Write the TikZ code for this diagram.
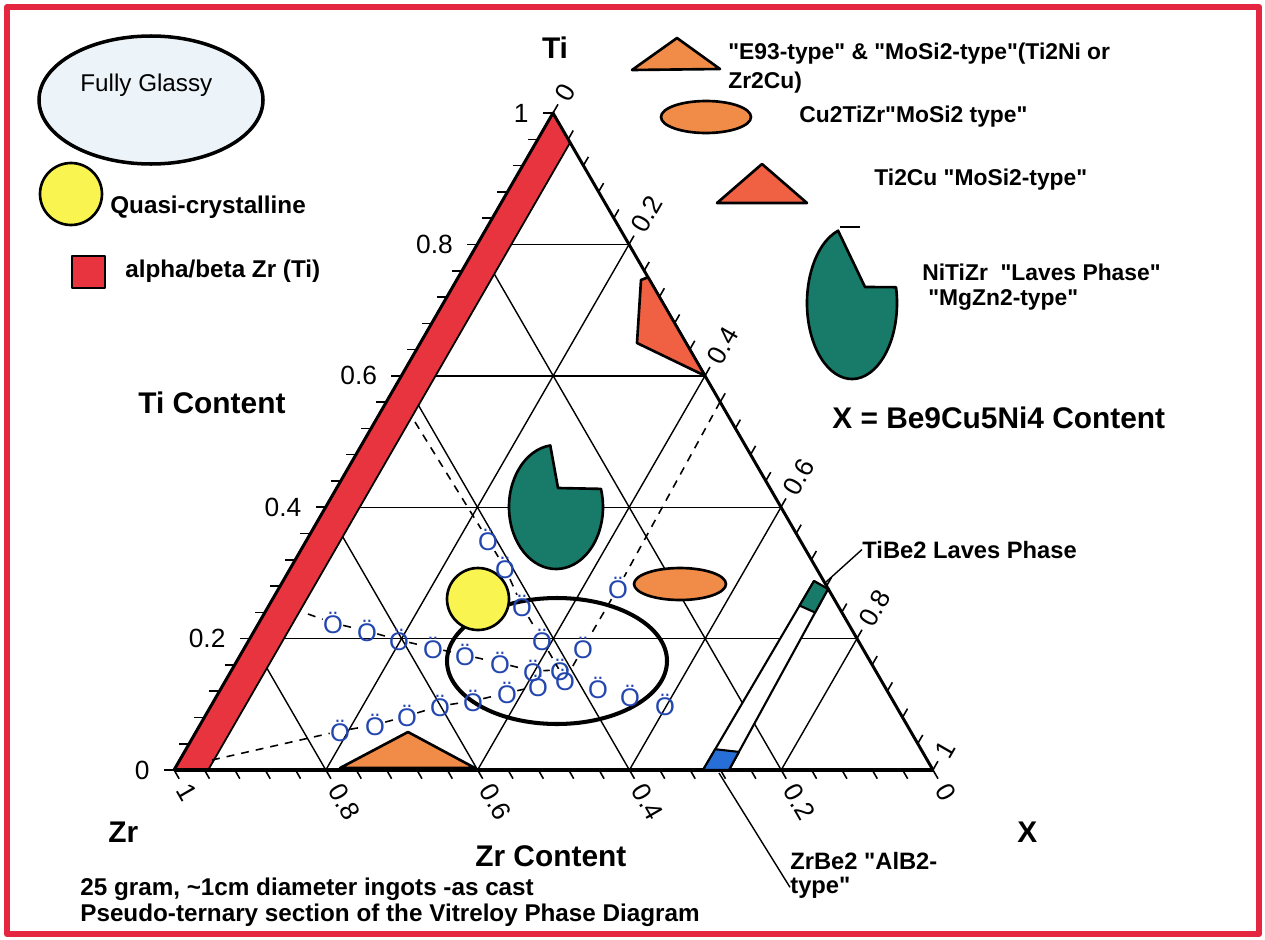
\documentclass[tikz,border=0pt]{standalone}
\usepackage{fontspec}
\setmainfont{Liberation Sans}[Ligatures=TeXOff]
\usetikzlibrary{calc}

\definecolor{framered}{RGB}{228,38,64}
\definecolor{bandred}{RGB}{232,52,62}
\definecolor{phorange}{RGB}{240,140,72}
\definecolor{phred}{RGB}{240,96,66}
\definecolor{phteal}{RGB}{24,122,104}
\definecolor{phyellow}{RGB}{250,244,80}
\definecolor{phblue}{RGB}{40,110,215}
\definecolor{ptblue}{RGB}{35,70,175}
\definecolor{glassy}{RGB}{236,244,249}

\begin{document}
\begin{tikzpicture}[x=0.02cm,y=-0.02cm,line join=round,inner sep=0pt]
  \tikzstyle{lbl}=[font=\bfseries\fontsize{13}{15}\selectfont,anchor=base west]
  \tikzstyle{lblbig}=[lbl,font=\bfseries\fontsize{13.8}{16}\selectfont]
  \tikzstyle{axname}=[font=\bfseries\fontsize{17}{20}\selectfont,anchor=base west]
  \tikzstyle{axnum}=[font=\fontsize{15}{18}\selectfont]
  \tikzstyle{gridline}=[line width=0.8pt]
  \tikzstyle{rim}=[line width=1.7pt]
  \tikzstyle{tickmark}=[line width=0.9pt]
  \tikzstyle{phase}=[draw=black,line width=1.5pt]
  \tikzstyle{ptmark}=[text=ptblue,font=\fontsize{14.5}{14.5}\selectfont]
  \tikzstyle{trail}=[line width=0.9pt,dash pattern=on 4.5pt off 4pt]
  \tikzstyle{leader}=[line width=0.8pt]

  % page and frame
  \fill[white] (0,0) rectangle (1265,940);
  \useasboundingbox (0,0) rectangle (1265,940);
  \draw[framered,line width=3.4pt] (7,7) rectangle (1259,934);

  % corners of the section
  \coordinate (Zr) at (174,770);
  \coordinate (X)  at (933,770);
  \coordinate (Ti) at (553,113);

  % grid
  \foreach \v in {0.2,0.4,0.6,0.8}{
    \draw[gridline] ($(Zr)!\v!(Ti)$) -- ($(X)!\v!(Ti)$);
    \draw[gridline] ($(Zr)!\v!(X)$) -- ($(Ti)!\v!(X)$);
    \draw[gridline] ($(X)!\v!(Zr)$) -- ($(Ti)!\v!(Zr)$);
  }

  % alpha/beta band along Zr-Ti side
  \filldraw[fill=bandred,draw=black,line width=1pt] (Zr) -- ($(Zr)!0.045!(X)$)
      -- ($(Ti)!0.045!(X)$) -- (Ti) -- cycle;

  \draw[rim] (X) -- (Ti) -- (Zr);
  \draw[rim,line width=2.1pt] (Zr) -- (X);

  % ticks and numbers
  \foreach \i in {0,...,25}{
    \pgfmathsetmacro\t{\i*0.04}
    \draw[tickmark] ($(Zr)!\t!(Ti)$) -- ++(-10,0);
    \draw[tickmark] ($(X)!\t!(Zr)$) -- ++(5,8.7);
    \draw[tickmark] ($(Ti)!\t!(X)$) -- ++(5,-8.7);
  }
  \foreach \v [count=\k] in {0,0.2,0.4,0.6,0.8,1}{
    \node[axnum,anchor=east] (tinum\k) at ($(Zr)!\v!(Ti)+(-24,0)$) {\v};
    \node[axnum,anchor=west,rotate=-60] (zrnum\k) at ($(X)!\v!(Zr)+(9,16)$) {\v};
    \node[axnum,anchor=west,rotate=60] (xnum\k) at ($(Ti)!\v!(X)+(8,-14)$) {\v};
  }

  % phase fields
  \coordinate (lavesC) at (556,507);
  \coordinate (lavesV) at (558,488);
  \filldraw[phase,fill=phteal] (lavesV) -- ([shift={(-97:47 and 62)}]lavesC)
      arc[start angle=-97,end angle=-377,x radius=47,y radius=62] -- cycle;
  \filldraw[phase,fill=phorange] (680,584) ellipse [x radius=46,y radius=16];
  \filldraw[phase,fill=phorange] (340,768) -- (408,732) -- (475,768) -- cycle;
  \filldraw[phase,fill=phred] (641,280) -- ($(Ti)!0.25!(X)$) -- ($(Ti)!0.4!(X)$)
      -- (637,343) -- cycle;

  \coordinate (barBL) at (703,770);
  \coordinate (barBR) at (729,770);
  \coordinate (barTL) at (814,581);
  \coordinate (barTR) at (828,589);
  \filldraw[phase,fill=white,line width=1.2pt] (barBL) -- (barTL) -- (barTR) -- (barBR) -- cycle;
  \filldraw[phase,fill=phteal,line width=1.2pt] (barTL) -- (barTR) -- ($(barTR)!0.13!(barBR)$)
      -- ($(barTL)!0.13!(barBL)$) -- cycle;
  \filldraw[phase,fill=phblue,line width=1.2pt] ($(barBL)!0.11!(barTL)$) -- ($(barBR)!0.1!(barTR)$)
      -- (barBR) -- (barBL) -- cycle;

  \draw[phase,line width=2.3pt] (557,661) ellipse [x radius=110,y radius=63];
  \filldraw[phase,fill=phyellow] (478,599) circle [radius=31];

  % measured alloys
  \foreach \p [count=\k] in {(333,623),(367,631),(399,640),(433,648),(465,655),(500,663),(533,671),(560,670)}
    \node[ptmark] (u\k) at \p {Ö};
  \foreach \p [count=\k] in {(488,540),(505,568),(522,606),(542,640),(565,680)}
    \node[ptmark] (d\k) at \p {Ö};
  \foreach \p [count=\k] in {(340,731),(375,725),(407,716),(440,706),(473,701),(507,693),(538,686)}
    \node[ptmark] (l\k) at \p {Ö};
  \foreach \p [count=\k] in {(598,688),(630,696),(665,705)}
    \node[ptmark] (s\k) at \p {Ö};
  \node[ptmark] (e1) at (583,648) {Ö};
  \node[ptmark] (f1) at (618,588) {Ö};

  \coordinate (uS) at (308,614);
  \coordinate (dS) at (415,422);
  \coordinate (fS) at (720,402);
  \coordinate (lS) at (212,760);
  \draw[trail] (uS) -- (u1) -- (u2) -- (u3) -- (u4) -- (u5) -- (u6) -- (u7) -- (u8);
  \draw[trail] (dS) -- (d1) -- (d2) -- (d3) -- (d4) -- (d5);
  \draw[trail] (fS) -- (f1) -- (e1) -- (d5);
  \draw[trail] (lS) -- (l1) -- (l2) -- (l3) -- (l4) -- (l5) -- (l6) -- (l7);

  % legend
  \filldraw[phase,fill=glassy,line width=2pt] (151,100) ellipse [x radius=112,y radius=64];
  \node[anchor=base west,font=\fontsize{13.8}{16}\selectfont] (glassytxt) at (80,91) {Fully Glassy};
  \filldraw[phase,fill=phyellow] (71,194) circle [radius=31];
  \node[lblbig] (quasitxt) at (110,213) {Quasi-crystalline};
  \filldraw[draw=black,fill=bandred,line width=1pt] (72,256) rectangle (105,288);
  \node[lblbig] (alphatxt) at (125,277) {alpha/beta Zr (Ti)};

  \filldraw[phase,fill=phorange] (632,70) -- (677,38) -- (720,69) -- cycle;
  \node[lbl] (e93a) at (728,59) {"E93-type" \& "MoSi2-type"(Ti2Ni or};
  \node[lbl] (e93b) at (728,88) {Zr2Cu)};
  \filldraw[phase,fill=phorange] (706,117) ellipse [x radius=45,y radius=16];
  \node[lbl] (cutxt) at (799,122) {Cu2TiZr"MoSi2 type"};
  \filldraw[phase,fill=phred] (717,203) -- (762,164) -- (807,203) -- cycle;
  \node[lbl] (ticutxt) at (874,185) {Ti2Cu "MoSi2-type"};
  \coordinate (lgC) at (852,303);
  \coordinate (lgV) at (865,287);
  \filldraw[phase,fill=phteal] (lgV) -- ([shift={(-108:45 and 76)}]lgC)
      arc[start angle=-108,end angle=-372,x radius=45,y radius=76] -- cycle;
  \draw[leader] (840,227) -- (860,227);
  \node[lbl] (nitizra) at (922,280) {NiTiZr \ "Laves Phase"};
  \node[lbl] (nitizrb) at (928,305) {"MgZn2-type"};

  % axis names and notes
  \node[axname,anchor=base] (tiname) at (555,58) {Ti};
  \node[axname] (zrname) at (108,842) {Zr};
  \node[axname] (xname) at (1017,842) {X};
  \node[axname] (ticont) at (138,413) {Ti Content};
  \node[axname] (zrcont) at (475,866) {Zr Content};
  \node[axname] (xcont) at (832,428) {X = Be9Cu5Ni4 Content};
  \node[lblbig] (note1) at (80,895) {25 gram, \textasciitilde1cm diameter ingots -as cast};
  \node[lblbig] (note2) at (80,921) {Pseudo-ternary section of the Vitreloy Phase Diagram};

  \node[lblbig,font=\bfseries\fontsize{13.5}{16}\selectfont] (tibe) at (862,558) {TiBe2 Laves Phase};
  \node[lblbig,font=\bfseries\fontsize{13.5}{16}\selectfont] (zrbea) at (790,869) {ZrBe2 "AlB2-};
  \node[lblbig,font=\bfseries\fontsize{13.5}{16}\selectfont] (zrbeb) at (790,893) {type"};
  \coordinate (tibeA) at (826,582);
  \coordinate (zrbeA) at (719,773);
  \draw[leader] (tibeA) -- (tibe.west);
  \draw[leader] (zrbeA) -- (zrbeb.west);
\end{tikzpicture}
\end{document}
